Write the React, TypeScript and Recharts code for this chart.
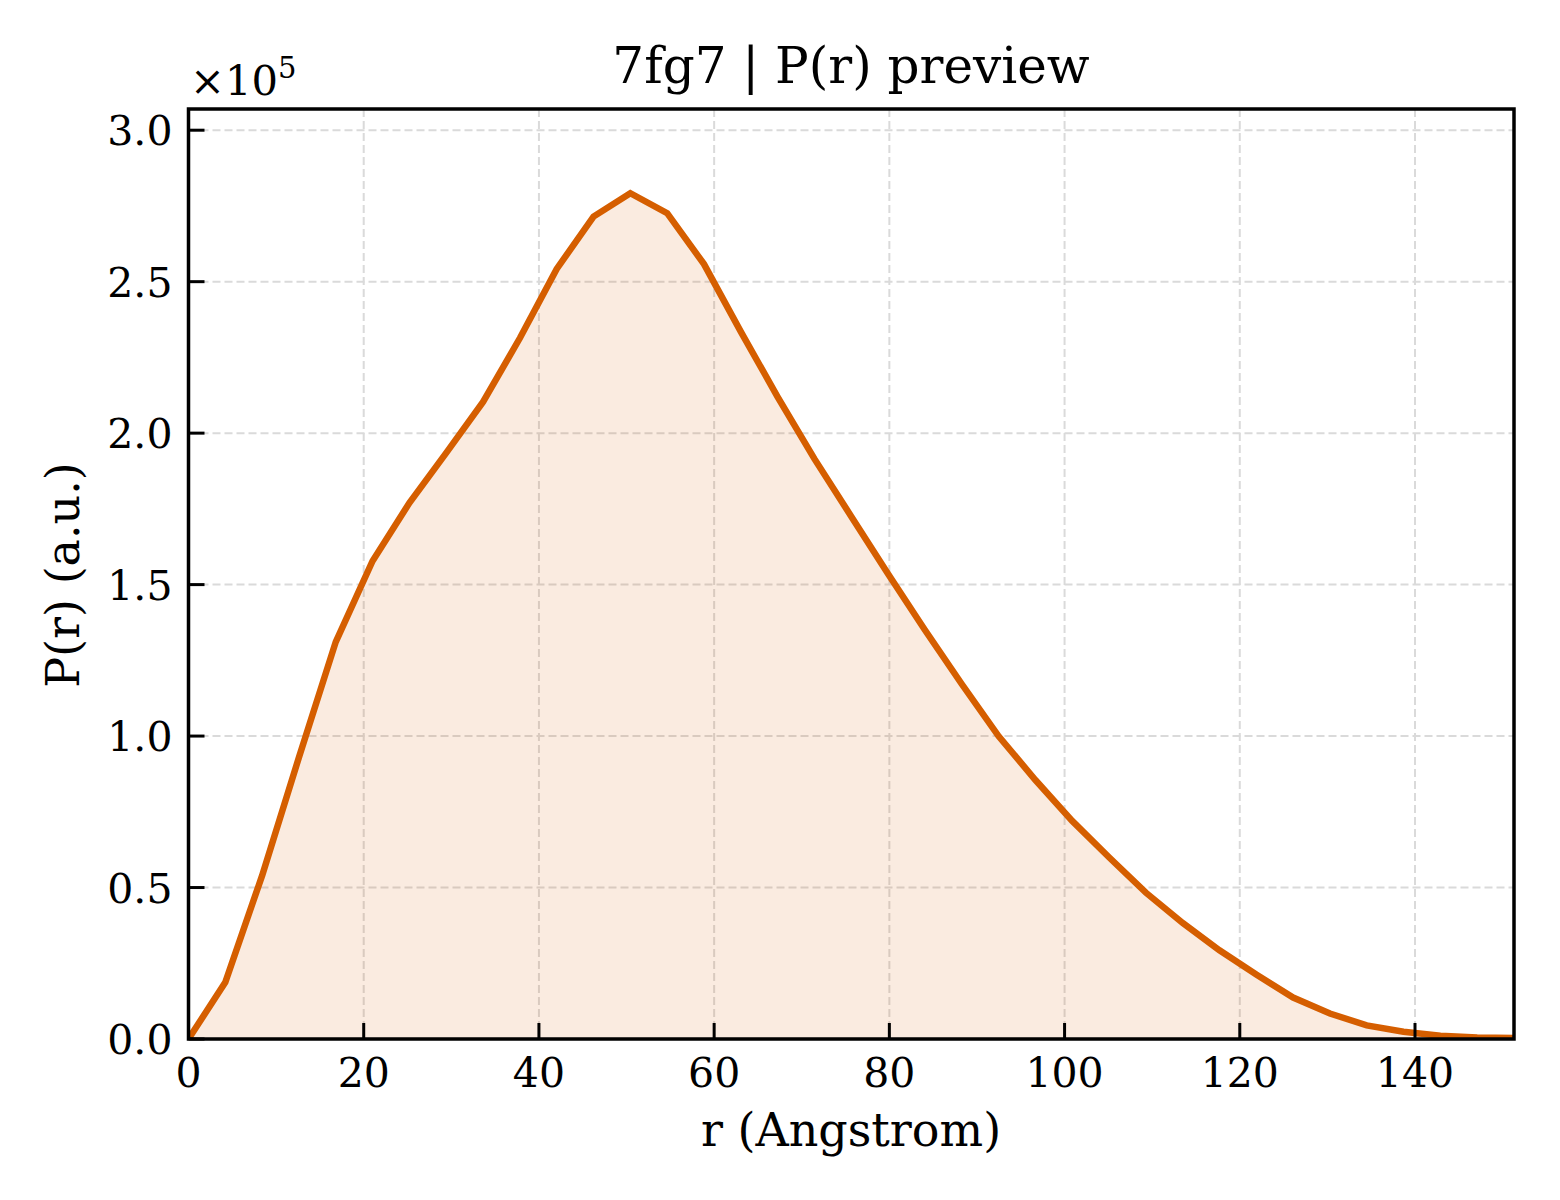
import React from "react";
import { ComposedChart, Area, XAxis, YAxis, CartesianGrid, ReferenceArea } from "recharts";

const rValues = [
  0, 4.2, 8.41, 12.61, 16.81, 21.01, 25.22, 29.42, 33.62, 37.83, 42.03, 46.23, 50.43,
  54.64, 58.84, 63.04, 67.24, 71.45, 75.65, 79.86, 84.06, 88.26, 92.46, 96.67, 100.87,
  105.07, 109.28, 113.48, 117.68, 121.88, 126.09, 130.29, 134.49, 138.69, 142.9, 147.1, 151.3,
];

const prValues = [
  0, 18700, 54000, 93000, 131100, 157800, 177000, 193500, 210300, 231400, 254200, 271500,
  279200, 272600, 255800, 233500, 212000, 191500, 172500, 153500, 135000, 117200, 100000,
  85500, 72000, 60000, 48300, 38300, 29300, 21300, 13700, 8400, 4500, 2400, 1100, 500, 300,
];

const xTicks = [0, 20, 40, 60, 80, 100, 120, 140];
const yTicks = [0, 50000, 100000, 150000, 200000, 250000, 300000];
const xMax = 151.3;
const yMax = 307000;

const data = rValues.map((r, i) => ({ r, pr: prValues[i] }));

const FONT = "'DejaVu Serif', serif";
const LINE = "#D55E00";
const TICK_FONT = 41;

const YTick = (props: any) => {
  const { x, y, payload } = props;
  return (
    <g>
      <line x1={x} x2={x + 16} y1={y} y2={y} stroke="#000" strokeWidth={3} />
      <text x={x - 16} y={y + 15} textAnchor="end" fontFamily={FONT} fontSize={TICK_FONT} fill="#000">
        {(payload.value / 100000).toFixed(1)}
      </text>
    </g>
  );
};

const XTick = (props: any) => {
  const { x, y, payload } = props;
  return (
    <g>
      <line x1={x} x2={x} y1={y} y2={y - 16} stroke="#000" strokeWidth={3} />
      <text x={x} y={y + 48} textAnchor="middle" fontFamily={FONT} fontSize={TICK_FONT} fill="#000">
        {String(payload.value)}
      </text>
    </g>
  );
};

export default function App() {
  return (
    <div style={{ position: "absolute", left: 0, top: 0, width: 1560, height: 1200, background: "#fff" }}>
      <ComposedChart
        width={1560}
        height={1200}
        data={data}
        margin={{ top: 109, right: 46, left: 0, bottom: 101 }}
      >
        <CartesianGrid stroke="#dadada" strokeWidth={2} strokeDasharray="8 4" />
        <XAxis
          type="number"
          dataKey="r"
          domain={[0, xMax]}
          ticks={xTicks}
          allowDataOverflow
          height={60}
          axisLine={false}
          tickLine={false}
          tickSize={0}
          tickMargin={0}
          tick={XTick}
          interval={0}
        />
        <YAxis
          type="number"
          domain={[0, yMax]}
          ticks={yTicks}
          allowDataOverflow
          width={188.5}
          axisLine={false}
          tickLine={false}
          tickSize={0}
          tickMargin={0}
          tick={YTick}
          interval={0}
        />
        <Area
          type="linear"
          dataKey="pr"
          stroke={LINE}
          strokeWidth={6.5}
          fill={LINE}
          fillOpacity={0.12}
          dot={false}
          activeDot={false}
          baseValue={0}
          isAnimationActive={false}
        />
        <ReferenceArea
          x1={0}
          x2={xMax}
          y1={0}
          y2={yMax}
          fill="none"
          fillOpacity={0}
          stroke="#000"
          strokeWidth={3.5}
          ifOverflow="visible"
        />
      </ComposedChart>
      <svg
        width={1560}
        height={1200}
        style={{ position: "absolute", left: 0, top: 0, pointerEvents: "none" }}
      >
        <text x={851} y={83} textAnchor="middle" fontFamily={FONT} fontSize={50} fill="#000">
          7fg7 | P(r) preview
        </text>
        <text x={190} y={95} fontFamily={FONT} fontSize={41.7} fill="#000">
          ×10
          <tspan fontSize={29} dy={-17}>5</tspan>
        </text>
        <text x={851} y={1146} textAnchor="middle" fontFamily={FONT} fontSize={46} fill="#000">
          r (Angstrom)
        </text>
        <text
          x={79}
          y={575}
          textAnchor="middle"
          fontFamily={FONT}
          fontSize={46}
          fill="#000"
          transform="rotate(-90, 79, 575)"
        >
          P(r) (a.u.)
        </text>
      </svg>
    </div>
  );
}
